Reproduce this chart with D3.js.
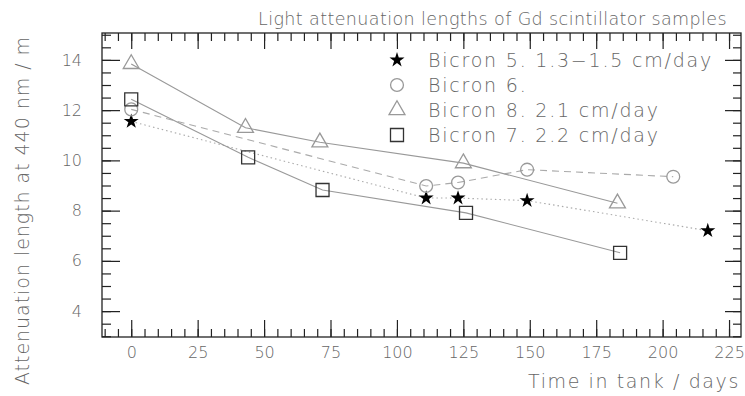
<!DOCTYPE html>
<html>
<head>
<meta charset="utf-8">
<script src="https://cdn.jsdelivr.net/npm/d3@7"></script>
<style>
  html, body { margin: 0; padding: 0; background: #fff; }
  svg { display: block; }
  text { font-family: "DejaVu Sans", "Liberation Sans", sans-serif; font-weight: 200; fill: #666; }
</style>
</head>
<body>
<svg id="chart" width="745" height="396"></svg>
<script>
// Light attenuation length measurements (days in tank vs. length in m)
const seriesNames = ["Bicron 5. 1.3\u22121.5 cm/day", "Bicron 6.", "Bicron 8. 2.1 cm/day", "Bicron 7. 2.2 cm/day"];

const bicron5Days = [0, 111, 123, 149, 217];
const bicron5Len  = [11.55, 8.5, 8.5, 8.4, 7.2];

const bicron6Days = [0, 111, 123, 149, 204];
const bicron6Len  = [12.03, 8.98, 9.12, 9.63, 9.35];

const bicron8Days = [0, 43, 71, 125, 183];
const bicron8Len  = [13.84, 11.3, 10.72, 9.89, 8.29];

const bicron7Days = [0, 44, 72, 126, 184];
const bicron7Len  = [12.43, 10.12, 8.82, 7.91, 6.32];

const xTickLabels = [0, 25, 50, 75, 100, 125, 150, 175, 200, 225];
const yTickLabels = [4, 6, 8, 10, 12, 14];

const titleText = "Light attenuation lengths of Gd scintillator samples";
const xTitle = "Time in tank / days";
const yTitle = "Attenuation length at 440 nm / m";

// ---------------------------------------------------------------
const svg = d3.select("#chart");
const frame = { left: 102, right: 741, top: 33, bottom: 337 };

const x = d3.scaleLinear().domain([-11, 229.5]).range([frame.left, frame.right]);
const y = d3.scaleLinear().domain([2.97, 15.07]).range([frame.bottom, frame.top]);

const xMinor = d3.range(-10, 230, 5);
const yMinor = d3.range(3, 15.01, 0.5);

function styleAxis(g) {
  g.select(".domain").remove();
  g.selectAll(".tick line").attr("stroke", "#222").attr("stroke-width", 1.2);
  g.selectAll("text").attr("fill", "#808080").attr("font-size", 16)
    .style("font-family", '"DejaVu Sans", sans-serif').style("font-weight", 200);
}

// bottom axis: labelled major ticks + minor ticks, all pointing inward
svg.append("g").attr("transform", `translate(0,${frame.bottom})`)
  .call(d3.axisBottom(x).tickValues(xTickLabels).tickSize(-17).tickPadding(10).tickFormat(d3.format("d")))
  .call(styleAxis);
svg.append("g").attr("transform", `translate(0,${frame.bottom})`)
  .call(d3.axisBottom(x).tickValues(xMinor).tickSize(-8).tickFormat(""))
  .call(styleAxis);
// top axis (ticks only)
svg.append("g").attr("transform", `translate(0,${frame.top})`)
  .call(d3.axisTop(x).tickValues(xTickLabels).tickSize(-16).tickFormat(""))
  .call(styleAxis);
svg.append("g").attr("transform", `translate(0,${frame.top})`)
  .call(d3.axisTop(x).tickValues(xMinor).tickSize(-8).tickFormat(""))
  .call(styleAxis);
// left axis
svg.append("g").attr("transform", `translate(${frame.left},0)`)
  .call(d3.axisLeft(y).tickValues(yTickLabels).tickSize(-18).tickPadding(20).tickFormat(d3.format("d")))
  .call(styleAxis);
svg.append("g").attr("transform", `translate(${frame.left},0)`)
  .call(d3.axisLeft(y).tickValues(yMinor).tickSize(-9).tickFormat(""))
  .call(styleAxis);
// right axis (ticks only)
svg.append("g").attr("transform", `translate(${frame.right},0)`)
  .call(d3.axisRight(y).tickValues(yTickLabels).tickSize(-16).tickFormat(""))
  .call(styleAxis);
svg.append("g").attr("transform", `translate(${frame.right},0)`)
  .call(d3.axisRight(y).tickValues(yMinor).tickSize(-8).tickFormat(""))
  .call(styleAxis);

// plot frame
svg.append("rect")
  .attr("x", frame.left).attr("y", frame.top)
  .attr("width", frame.right - frame.left).attr("height", frame.bottom - frame.top)
  .attr("fill", "none").attr("stroke", "#222").attr("stroke-width", 1.3);

// ---------------------------------------------------------------
const series = [
  { name: seriesNames[0], days: bicron5Days, len: bicron5Len, symbol: d3.symbolStar, size: 70,
    fill: "#000", stroke: "none", line: "#aaa", dash: "1.5,3" },
  { name: seriesNames[1], days: bicron6Days, len: bicron6Len, symbol: d3.symbolCircle, size: 130,
    fill: "none", stroke: "#999", line: "#aaa", dash: "7,5" },
  { name: seriesNames[2], days: bicron8Days, len: bicron8Len, symbol: d3.symbolTriangle, size: 110,
    fill: "none", stroke: "#999", line: "#999", dash: null },
  { name: seriesNames[3], days: bicron7Days, len: bicron7Len, symbol: d3.symbolSquare, size: 169,
    fill: "none", stroke: "#333", line: "#999", dash: null }
];

const lineGen = d3.line().x(d => x(d[0])).y(d => y(d[1]));

series.forEach(s => {
  const pts = s.days.map((d, i) => [d, s.len[i]]);
  svg.append("path")
    .datum(pts)
    .attr("d", lineGen)
    .attr("fill", "none")
    .attr("stroke", s.line)
    .attr("stroke-width", 1.1)
    .attr("stroke-dasharray", s.dash);
});

series.forEach(s => {
  const pts = s.days.map((d, i) => [d, s.len[i]]);
  svg.append("g").selectAll("path")
    .data(pts).join("path")
    .attr("transform", d => `translate(${x(d[0])},${y(d[1])})`)
    .attr("d", d3.symbol().type(s.symbol).size(s.size))
    .attr("fill", s.fill)
    .attr("stroke", s.stroke)
    .attr("stroke-width", 1.3);
});

// ---------------------------------------------------------------
// helper: widen or tighten letter spacing so a text spans the given width
function fitSpacing(sel, width) {
  sel.attr("letter-spacing", 0);
  const w = sel.node().getComputedTextLength();
  const n = sel.text().length;
  const ls = (width - w) / n;
  sel.attr("letter-spacing", ls);
  return ls;
}

// legend
const legend = svg.append("g");
const legendRows = [60, 85, 110, 135];
let legendSpacing = 0;
series.forEach((s, i) => {
  legend.append("path")
    .attr("transform", `translate(397,${legendRows[i]})`)
    .attr("d", d3.symbol().type(s.symbol).size(s.size))
    .attr("fill", s.fill)
    .attr("stroke", s.stroke)
    .attr("stroke-width", 1.3);
  const t = legend.append("text")
    .attr("x", 428).attr("y", legendRows[i] + 7)
    .attr("font-size", 19)
    .attr("fill", "#777")
    .text(s.name);
  if (i === 0) legendSpacing = fitSpacing(t, 285);
  else t.attr("letter-spacing", legendSpacing);
});

// titles
const title = svg.append("text")
  .attr("x", 258).attr("y", 25)
  .attr("font-size", 17.5)
  .text(titleText);
fitSpacing(title, 469);

const xt = svg.append("text")
  .attr("x", 528).attr("y", 388)
  .attr("font-size", 19)
  .text(xTitle);
fitSpacing(xt, 212);

const yt = svg.append("text")
  .attr("transform", "translate(29,385) rotate(-90)")
  .attr("font-size", 19)
  .text(yTitle);
fitSpacing(yt, 349);
</script>
</body>
</html>
